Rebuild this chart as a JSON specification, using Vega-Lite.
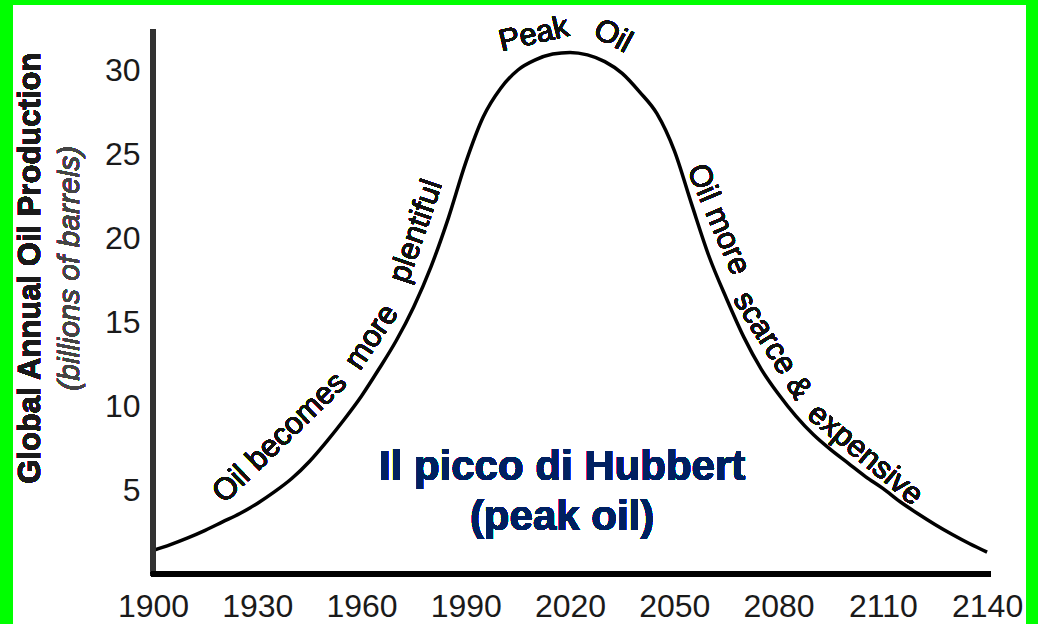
{
  "$schema": "https://vega.github.io/schema/vega-lite/v6.json",
  "width": 1013,
  "height": 619,
  "autosize": {"type": "none"},
  "padding": {"top": 5, "left": 13, "right": 12, "bottom": 0},
  "background": "#00ff00",
  "config": {
    "view": {"fill": "white", "stroke": null},
    "axis": {"grid": false, "domain": false, "ticks": false, "tickSize": 0}
  },
  "data": {
    "values": [
      {"year": 1900, "production": 1.4},
      {"year": 1905, "production": 1.75},
      {"year": 1910, "production": 2.15},
      {"year": 1915, "production": 2.6},
      {"year": 1920, "production": 3.1},
      {"year": 1925, "production": 3.6},
      {"year": 1930, "production": 4.2},
      {"year": 1935, "production": 4.9},
      {"year": 1940, "production": 5.7},
      {"year": 1945, "production": 6.7},
      {"year": 1950, "production": 7.9},
      {"year": 1955, "production": 9.2},
      {"year": 1960, "production": 10.6},
      {"year": 1965, "production": 12.2},
      {"year": 1970, "production": 13.9},
      {"year": 1975, "production": 15.9},
      {"year": 1980, "production": 18.3},
      {"year": 1985, "production": 21.2},
      {"year": 1990, "production": 24.5},
      {"year": 1995, "production": 27.2},
      {"year": 2000, "production": 28.9},
      {"year": 2005, "production": 30.0},
      {"year": 2010, "production": 30.6},
      {"year": 2015, "production": 30.95},
      {"year": 2020, "production": 31.05},
      {"year": 2025, "production": 30.9},
      {"year": 2030, "production": 30.5},
      {"year": 2035, "production": 29.8},
      {"year": 2040, "production": 28.7},
      {"year": 2045, "production": 27.4},
      {"year": 2050, "production": 25.2},
      {"year": 2055, "production": 22.0},
      {"year": 2060, "production": 18.9},
      {"year": 2065, "production": 16.4},
      {"year": 2070, "production": 14.1},
      {"year": 2075, "production": 12.2},
      {"year": 2080, "production": 10.7},
      {"year": 2085, "production": 9.4},
      {"year": 2090, "production": 8.3},
      {"year": 2095, "production": 7.4},
      {"year": 2100, "production": 6.6},
      {"year": 2105, "production": 5.8},
      {"year": 2110, "production": 5.1},
      {"year": 2115, "production": 4.3},
      {"year": 2120, "production": 3.6},
      {"year": 2125, "production": 2.95},
      {"year": 2130, "production": 2.35},
      {"year": 2135, "production": 1.8},
      {"year": 2140, "production": 1.3}
    ]
  },
  "layer": [
    {
      "mark": {"type": "line", "color": "black", "strokeWidth": 3.5, "interpolate": "monotone"},
      "encoding": {
        "x": {
          "field": "year", "type": "quantitative",
          "scale": {"domain": [1859.7, 2151.2], "nice": false, "zero": false},
          "axis": {
            "values": [1900, 1930, 1960, 1990, 2020, 2050, 2080, 2110, 2140],
            "orient": "bottom", "offset": -33, "labelPadding": 0, "format": "d",
            "labelFont": "Liberation Sans", "labelFontSize": 32, "labelColor": "#1a1a1a",
            "labelFlush": false, "labelOverlap": false, "title": null
          }
        },
        "y": {
          "field": "production", "type": "quantitative",
          "scale": {"domain": [-2.976, 33.87], "nice": false, "zero": false},
          "axis": {
            "values": [5, 10, 15, 20, 25, 30],
            "orient": "left", "offset": -127, "labelPadding": 0,
            "labelFont": "Liberation Sans", "labelFontSize": 32, "labelColor": "#1a1a1a",
            "labelFlush": false, "labelOverlap": false, "title": null
          }
        }
      }
    },
    {
      "mark": {"type": "rule", "color": "#333", "strokeWidth": 5},
      "encoding": {
        "x": {"datum": 1900, "type": "quantitative"},
        "y": {"datum": 0, "type": "quantitative"},
        "y2": {"datum": 32.4}
      }
    },
    {
      "mark": {"type": "rule", "color": "black", "strokeWidth": 5},
      "encoding": {
        "x": {"datum": 1899.4, "type": "quantitative"},
        "x2": {"datum": 2141},
        "y": {"datum": 0, "type": "quantitative"}
      }
    },
    {
      "mark": {"type": "text", "text": "Global Annual Oil Production", "angle": -90, "font": "Liberation Sans", "fontWeight": "bold", "fontSize": 31, "color": "#1a1a1a", "align": "center", "baseline": "middle"},
      "encoding": {"x": {"datum": 1864.9, "type": "quantitative"}, "y": {"datum": 18.2, "type": "quantitative"}}
    },
    {
      "mark": {"type": "text", "text": "(billions of barrels)", "angle": -90, "font": "Liberation Sans", "fontStyle": "italic", "fontSize": 30, "color": "#444", "align": "center", "baseline": "middle"},
      "encoding": {"x": {"datum": 1876.1, "type": "quantitative"}, "y": {"datum": 18.2, "type": "quantitative"}}
    },
    {
      "mark": {"type": "text", "text": ["Il picco di Hubbert", "(peak oil)"], "font": "Liberation Sans", "fontWeight": "bold", "fontSize": 42, "color": "#002060", "align": "center", "baseline": "alphabetic", "lineHeight": 50},
      "encoding": {"x": {"datum": 2017.7, "type": "quantitative"}, "y": {"datum": 5.6, "type": "quantitative"}}
    },
    {
      "mark": {"type": "text", "text": "Peak", "angle": -13, "font": "Liberation Sans", "fontSize": 31, "color": "#111", "align": "center", "baseline": "middle"},
      "encoding": {"x": {"datum": 2009.6, "type": "quantitative"}, "y": {"datum": 32.1, "type": "quantitative"}}
    },
    {
      "mark": {"type": "text", "text": "Oil", "angle": 28, "font": "Liberation Sans", "fontSize": 31, "color": "#111", "align": "center", "baseline": "middle"},
      "encoding": {"x": {"datum": 2032.3, "type": "quantitative"}, "y": {"datum": 32.0, "type": "quantitative"}}
    },
    {
      "mark": {"type": "text", "text": "Oil becomes", "angle": -44, "font": "Liberation Sans", "fontSize": 31, "color": "#111", "align": "center", "baseline": "middle"},
      "encoding": {"x": {"datum": 1936.5, "type": "quantitative"}, "y": {"datum": 8.1, "type": "quantitative"}}
    },
    {
      "mark": {"type": "text", "text": "more", "angle": -56, "font": "Liberation Sans", "fontSize": 31, "color": "#111", "align": "center", "baseline": "middle"},
      "encoding": {"x": {"datum": 1963.0, "type": "quantitative"}, "y": {"datum": 14.1, "type": "quantitative"}}
    },
    {
      "mark": {"type": "text", "text": "plentiful", "angle": -71, "font": "Liberation Sans", "fontSize": 31, "color": "#111", "align": "center", "baseline": "middle"},
      "encoding": {"x": {"datum": 1975.8, "type": "quantitative"}, "y": {"datum": 20.4, "type": "quantitative"}}
    },
    {
      "mark": {"type": "text", "text": "Oil more", "angle": 67, "font": "Liberation Sans", "fontSize": 31, "color": "#111", "align": "center", "baseline": "middle"},
      "encoding": {"x": {"datum": 2062.6, "type": "quantitative"}, "y": {"datum": 21.1, "type": "quantitative"}}
    },
    {
      "mark": {"type": "text", "text": "scarce &", "angle": 58, "font": "Liberation Sans", "fontSize": 31, "color": "#111", "align": "center", "baseline": "middle"},
      "encoding": {"x": {"datum": 2078.1, "type": "quantitative"}, "y": {"datum": 13.6, "type": "quantitative"}}
    },
    {
      "mark": {"type": "text", "text": "expensive", "angle": 40, "font": "Liberation Sans", "fontSize": 31, "color": "#111", "align": "center", "baseline": "middle"},
      "encoding": {"x": {"datum": 2104.9, "type": "quantitative"}, "y": {"datum": 7.1, "type": "quantitative"}}
    }
  ]
}
